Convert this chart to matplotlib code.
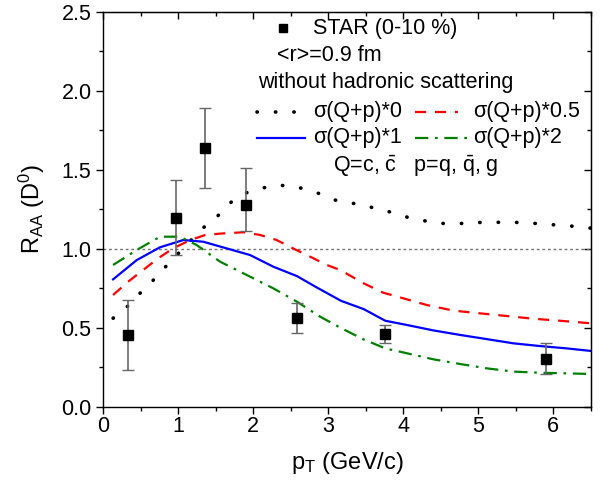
import matplotlib

matplotlib.use("Agg")
from matplotlib import pyplot as plt
from matplotlib.ticker import MultipleLocator

plt.rcParams["font.family"] = ["Liberation Sans", "DejaVu Sans"]
plt.rcParams["mathtext.fontset"] = "custom"
plt.rcParams["mathtext.rm"] = "Liberation Sans"
plt.rcParams["mathtext.it"] = "Liberation Sans:italic"

# STAR D0 data (0-10 %)
star_pt = [0.325, 0.97, 1.36, 1.90, 2.58, 3.76, 5.90]
star_raa = [0.454, 1.196, 1.635, 1.277, 0.559, 0.458, 0.304]
star_err_hi = [0.674, 1.435, 1.889, 1.509, 0.654, 0.517, 0.405]
star_err_lo = [0.232, 0.960, 1.382, 1.112, 0.464, 0.401, 0.205]

# model curves, sigma(Q+p) scaled by 0, 0.5, 1, 2
pt_s0 = [0.13, 0.36, 0.53, 0.73, 0.91, 1.09, 1.27, 1.49, 1.69, 1.88, 2.09, 2.27,
         2.47, 2.67, 2.87, 3.07, 3.27, 3.46, 3.65, 3.85, 4.05, 4.25, 4.45, 4.65,
         4.85, 5.05, 5.24, 5.44, 5.65, 5.85, 6.05, 6.22, 6.42, 6.5]
raa_s0 = [0.56, 0.65, 0.74, 0.83, 0.93, 1.01, 1.11, 1.19, 1.29, 1.35, 1.38, 1.40,
          1.40, 1.38, 1.35, 1.31, 1.29, 1.28, 1.25, 1.23, 1.20, 1.18, 1.16, 1.16,
          1.16, 1.167, 1.167, 1.167, 1.165, 1.156, 1.15, 1.144, 1.135, 1.13]

pt_s05 = [0.13, 0.33, 0.53, 0.73, 0.93, 1.16, 1.36, 1.60, 1.87, 2.09, 2.31, 2.53,
          2.76, 2.98, 3.16, 3.47, 3.73, 4.00, 4.31, 4.67, 5.02, 5.38, 5.73, 6.09, 6.5]
raa_s05 = [0.707, 0.791, 0.865, 0.939, 1.002, 1.055, 1.087, 1.097, 1.104, 1.087,
           1.055, 1.002, 0.949, 0.897, 0.865, 0.781, 0.722, 0.686, 0.644, 0.608,
           0.591, 0.574, 0.557, 0.544, 0.528]

pt_s1 = [0.13, 0.445, 0.756, 1.067, 1.333, 1.644, 1.956, 2.267, 2.58, 2.845, 3.17,
         3.47, 3.76, 4.05, 4.40, 4.76, 5.11, 5.47, 5.82, 6.18, 6.5]
raa_s1 = [0.806, 0.928, 1.009, 1.055, 1.044, 1.002, 0.960, 0.886, 0.827, 0.755,
          0.670, 0.618, 0.544, 0.517, 0.483, 0.454, 0.428, 0.401, 0.384, 0.369, 0.353]

pt_s2 = [0.13, 0.445, 0.756, 1.02, 1.245, 1.556, 1.91, 2.267, 2.58, 2.89, 3.16,
         3.47, 3.76, 4.05, 4.40, 4.76, 5.11, 5.47, 5.82, 6.18, 6.5]
raa_s2 = [0.897, 0.992, 1.076, 1.076, 1.023, 0.918, 0.834, 0.749, 0.665, 0.570,
          0.500, 0.426, 0.369, 0.338, 0.300, 0.270, 0.243, 0.222, 0.215, 0.211, 0.207]

legend_labels = ["σ(Q+p)*0", "σ(Q+p)*0.5", "σ(Q+p)*1", "σ(Q+p)*2"]

fig = plt.figure(figsize=(6.08, 4.88), dpi=100)
ax = fig.add_axes([0.170, 0.1666, 0.8017, 0.8094])

ax.axhline(1.0, color="0.45", linewidth=1.0, linestyle=(0, (2, 2)), zorder=1)

dot_style = (0, (0.1, 5))
ax.plot(pt_s0, raa_s0, color="black", linewidth=2.6, linestyle=dot_style,
        dash_capstyle="round", zorder=2)
ax.plot(pt_s05, raa_s05, color="red", linewidth=1.6, linestyle=(0, (5, 4)), zorder=2)
ax.plot(pt_s1, raa_s1, color="blue", linewidth=1.6, zorder=2)
ax.plot(pt_s2, raa_s2, color="green", linewidth=1.6,
        linestyle=(0, (6, 3, 1.2, 3)), zorder=2)

err_lower = [r - lo for r, lo in zip(star_raa, star_err_lo)]
err_upper = [hi - r for r, hi in zip(star_raa, star_err_hi)]
bars = ax.errorbar(star_pt, star_raa, yerr=[err_lower, err_upper], fmt="s",
                   color="black", ecolor="0.4", elinewidth=1.2, capsize=4,
                   capthick=1.0, markersize=7, zorder=4)
for cap in bars[1]:
    cap.set_color("black")

ax.set_xlim(0, 6.5)
ax.set_ylim(0, 2.5)
ax.xaxis.set_major_locator(MultipleLocator(1))
ax.xaxis.set_minor_locator(MultipleLocator(0.5))
ax.yaxis.set_major_locator(MultipleLocator(0.5))
ax.yaxis.set_minor_locator(MultipleLocator(0.25))
ax.yaxis.set_major_formatter(plt.FormatStrFormatter("%.1f"))
ax.tick_params(which="both", direction="out", labelsize=15.5, width=1.0)
ax.tick_params(which="major", length=5)
ax.tick_params(which="minor", length=3)
ax.tick_params(axis="x", pad=2)
for spine in ax.spines.values():
    spine.set_linewidth(1.0)

# mirrored inward ticks on top and right
top = ax.secondary_xaxis("top")
top.xaxis.set_major_locator(MultipleLocator(1))
top.xaxis.set_minor_locator(MultipleLocator(0.5))
top.tick_params(which="both", direction="in", labeltop=False, width=1.0)
top.tick_params(which="major", length=5)
top.tick_params(which="minor", length=3)
right = ax.secondary_yaxis("right")
right.yaxis.set_major_locator(MultipleLocator(0.5))
right.yaxis.set_minor_locator(MultipleLocator(0.25))
right.tick_params(which="both", direction="in", labelright=False, width=1.0)
right.tick_params(which="major", length=5)
right.tick_params(which="minor", length=3)

ax.set_xlabel("p$_\\mathregular{T}$ (GeV/c)", fontsize=17, labelpad=9)
ax.set_ylabel("R$_\\mathregular{AA}$ (D$^\\mathregular{0}$)", fontsize=17, labelpad=10)

# hand-made legend block
tr = ax.transAxes
fs = 15.5
ax.plot([0.368], [0.958], marker="s", color="black", markersize=6, transform=tr)
ax.text(0.43, 0.958, "STAR (0-10 %)", transform=tr, fontsize=fs, va="center")
ax.text(0.356, 0.89, "<r>=0.9 fm", transform=tr, fontsize=fs, va="center")
ax.text(0.317, 0.822, "without hadronic scattering", transform=tr, fontsize=fs,
        va="center")

row1, row2 = 0.747, 0.681
ax.plot([0.316, 0.414], [row1, row1], color="black", linewidth=2.6,
        linestyle=dot_style, dash_capstyle="round", transform=tr)
ax.text(0.43, row1, legend_labels[0], transform=tr, fontsize=fs, va="center")
ax.plot([0.639, 0.728], [row1, row1], color="red", linewidth=1.6,
        linestyle=(0, (5, 4)), transform=tr)
ax.text(0.758, row1, legend_labels[1], transform=tr, fontsize=fs, va="center")
ax.plot([0.316, 0.414], [row2, row2], color="blue", linewidth=1.6, transform=tr)
ax.text(0.43, row2, legend_labels[2], transform=tr, fontsize=fs, va="center")
ax.plot([0.639, 0.752], [row2, row2], color="green", linewidth=1.6,
        linestyle=(0, (6, 3, 1.2, 3)), transform=tr)
ax.text(0.758, row2, legend_labels[3], transform=tr, fontsize=fs, va="center")
ax.text(0.471, 0.609, "Q=c, $\\bar{\\mathregular{c}}$   p=q, $\\bar{\\mathregular{q}}$, g",
        transform=tr, fontsize=fs, va="center")

fig.savefig("out.png", dpi=100)
